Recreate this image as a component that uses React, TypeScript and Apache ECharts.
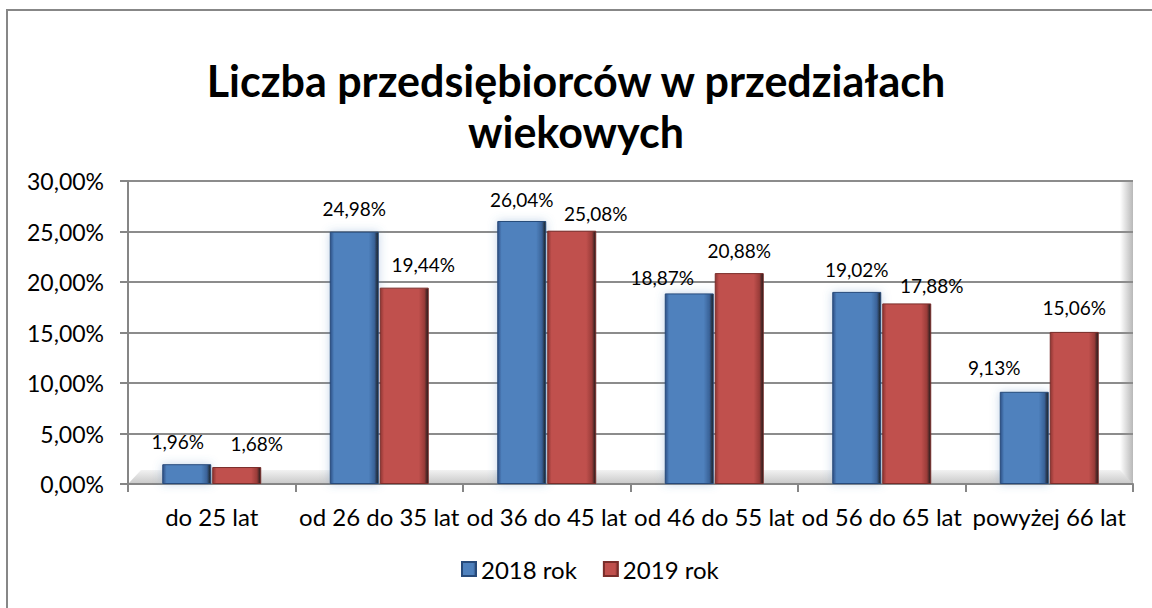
import React, { useEffect, useRef } from "react";
import * as echarts from "echarts";

const categories = ["do 25 lat", "od 26 do 35 lat", "od 36 do 45 lat", "od 46 do 55 lat", "od 56 do 65 lat", "powyżej 66 lat"];
const series2018 = [1.96, 24.98, 26.04, 18.87, 19.02, 9.13];
const series2019 = [1.68, 19.44, 25.08, 20.88, 17.88, 15.06];
const seriesNames = ["2018 rok", "2019 rok"];
const titleLine1 = "Liczba przedsiębiorców w przedziałach";
const titleLine2 = "wiekowych";

// label nudges (layout only), [dx, dy]
const labelOffsets2018 = [[-9, 0], [0, -1], [0, 1], [-27, 7], [0, 0], [-30, -2]];
const labelOffsets2019 = [[20, -1], [19, -1], [24, 5], [0, 0], [25, 5], [0, -2]];

const fmt = (v: number) => v.toFixed(2).replace(".", ",") + "%";

const FONT = "Lato, 'Open Sans', sans-serif";

function barGradient(dark: string, mid: string, light: string) {
  return new echarts.graphic.LinearGradient(0, 0, 1, 0, [
    { offset: 0, color: dark },
    { offset: 0.08, color: mid },
    { offset: 0.8, color: mid },
    { offset: 0.92, color: light },
    { offset: 1, color: "#1a1a1a" },
  ]);
}

export default function App() {
  const ref = useRef<HTMLDivElement>(null);
  useEffect(() => {
    if (!ref.current) return;
    const chart = echarts.init(ref.current, undefined, { renderer: "svg" });
    const gridLeft = 128;
    const gridTop = 181;
    const gridRight = 1152 - 1133;
    const gridBottom = 608 - 484;
    const labelBase = {
      show: true,
      position: "top",
      distance: 13,
      fontFamily: FONT,
      fontSize: 19,
      color: "#000",
      formatter: (p: any) => fmt(p.value),
    };
    const titleStyle = { fontFamily: FONT, fontWeight: "bold", fontSize: 43, lineHeight: 48, color: "#000" };
    chart.setOption({
      animation: false,
      backgroundColor: "#ffffff",
      title: [
        { text: titleLine1, left: "center", top: 56, padding: 0, textStyle: titleStyle },
        { text: titleLine2, left: "center", top: 107, padding: 0, textStyle: titleStyle },
      ],
      legend: {
        bottom: 22,
        left: 456,
        itemWidth: 14,
        itemHeight: 14,
        itemGap: 26,
        icon: "rect",
        textStyle: { fontFamily: FONT, fontSize: 24, color: "#000" },
        data: seriesNames,
      },
      graphic: [
        {
          type: "rect",
          shape: { x: 7, y: 10, width: 1160, height: 620 },
          style: { fill: "none", stroke: "#878787", lineWidth: 2 },
          silent: true,
        },
        {
          type: "rect",
          z: -1,
          shape: { x: 1120, y: gridTop, width: 13, height: 484 - gridTop },
          style: {
            fill: new echarts.graphic.LinearGradient(0, 0, 1, 0, [
              { offset: 0, color: "#ffffff" },
              { offset: 1, color: "#b8b8b8" },
            ]),
          },
          silent: true,
        },
        {
          type: "polygon",
          z: -1,
          shape: { points: [[128, 484], [1133, 484], [1120, 470], [141, 470]] },
          style: {
            fill: new echarts.graphic.LinearGradient(0, 0, 0, 1, [
              { offset: 0, color: "#f2f2f2" },
              { offset: 1, color: "#c8c8c8" },
            ]),
          },
          silent: true,
        },
      ],
      grid: { left: gridLeft, top: gridTop, right: gridRight, bottom: gridBottom, containLabel: false },
      xAxis: {
        type: "category",
        data: categories,
        axisLine: { lineStyle: { color: "#868686", width: 2 } },
        axisTick: { show: true, length: 8, lineStyle: { color: "#868686", width: 2 }, alignWithLabel: false },
        axisLabel: { fontFamily: FONT, fontSize: 24, color: "#000", margin: 20, interval: 0 },
      },
      yAxis: {
        type: "value",
        min: 0,
        max: 30,
        interval: 5,
        axisLine: { show: true, lineStyle: { color: "#868686", width: 2 } },
        axisTick: { show: true, length: 8, lineStyle: { color: "#868686", width: 2 } },
        splitLine: { lineStyle: { color: "#8c8c8c", width: 2 } },
        axisLabel: { fontFamily: FONT, fontSize: 23, color: "#000", margin: 24, formatter: (v: number) => fmt(v) },
      },
      series: [
        {
          name: seriesNames[0],
          type: "bar",
          data: series2018.map((v, i) => ({ value: v, label: { offset: labelOffsets2018[i] } })),
          barWidth: 49,
          barGap: "2%",
          itemStyle: {
            color: barGradient("#2d5086", "#4f81bd", "#3a6298"),
            borderColor: "#274a7a",
            borderWidth: 1,
            shadowColor: "rgba(79,129,189,0.35)",
            shadowBlur: 10,
          },
          label: labelBase,
        },
        {
          name: seriesNames[1],
          type: "bar",
          data: series2019.map((v, i) => ({ value: v, label: { offset: labelOffsets2019[i] } })),
          barWidth: 49,
          itemStyle: {
            color: barGradient("#8e3532", "#c0504d", "#9a3c39"),
            borderColor: "#7a2d2a",
            borderWidth: 1,
          },
          label: labelBase,
        },
      ],
    });
    return () => chart.dispose();
  }, []);
  return <div ref={ref} style={{ position: "fixed", left: 0, top: 0, width: 1152, height: 608 }} />;
}
